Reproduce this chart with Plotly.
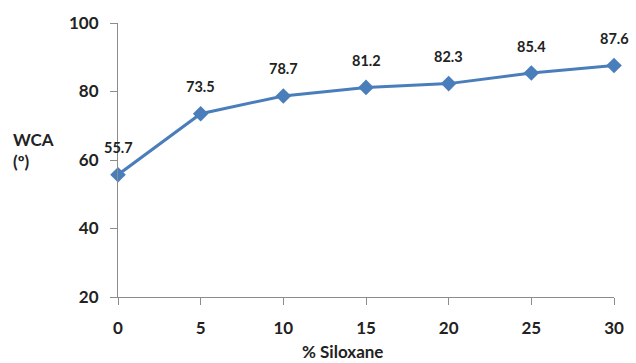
import plotly.graph_objects as go

siloxane_pct = [0, 5, 10, 15, 20, 25, 30]
wca_deg = [55.7, 73.5, 78.7, 81.2, 82.3, 85.4, 87.6]
y_ticks = [20, 40, 60, 80, 100]
x_ticks = [0, 5, 10, 15, 20, 25, 30]

blue = "#4A7EBB"
axis_grey = "#8C8C8C"
font_family = "Lato, 'Open Sans', sans-serif"

fig = go.Figure()
fig.add_trace(go.Scatter(
    x=siloxane_pct, y=wca_deg, mode="lines+markers",
    line=dict(color=blue, width=3),
    marker=dict(symbol="diamond", size=12, color=blue),
    cliponaxis=False, showlegend=False,
))

for xv, yv in zip(siloxane_pct, wca_deg):
    fig.add_annotation(
        x=xv, y=yv, text=f"<b>{yv:.1f}</b>", showarrow=False,
        yshift=27, font=dict(size=14.5, color="#222", family=font_family),
    )

fig.add_annotation(
    xref="paper", yref="paper", x=(345 - 118) / (619 - 118), y=-55 / 275,
    text="<b>% Siloxane</b>", showarrow=False, yanchor="middle",
    font=dict(size=17, color="#222", family=font_family),
)
fig.add_annotation(
    xref="paper", yref="paper", x=-108 / (619 - 118), y=(297 - 150) / 275,
    text="<b>WCA</b><br><b>(º)</b>", showarrow=False, xanchor="left", align="left",
    yanchor="middle", font=dict(size=17, color="#222", family=font_family),
)

fig.update_layout(
    width=636, height=363,
    margin=dict(l=118, r=17, t=22, b=66),
    paper_bgcolor="white", plot_bgcolor="white",
    font=dict(family=font_family, color="#222"),
    xaxis=dict(
        range=[0, 30], tickvals=x_ticks, ticktext=[f"<b>{t}</b>" for t in x_ticks],
        showgrid=False, zeroline=False, showline=True, linecolor=axis_grey, linewidth=1,
        ticks="outside", ticklen=7, tickcolor=axis_grey, tickfont=dict(size=17),
        ticklabelstandoff=9,
    ),
    yaxis=dict(
        range=[20, 100], tickvals=y_ticks, ticktext=[f"<b>{t}</b>" for t in y_ticks],
        showgrid=False, zeroline=False, showline=True, linecolor=axis_grey, linewidth=1,
        ticks="outside", ticklen=7, tickcolor=axis_grey, tickfont=dict(size=17),
        ticklabelstandoff=8,
    ),
)

fig.write_html("out.html")
